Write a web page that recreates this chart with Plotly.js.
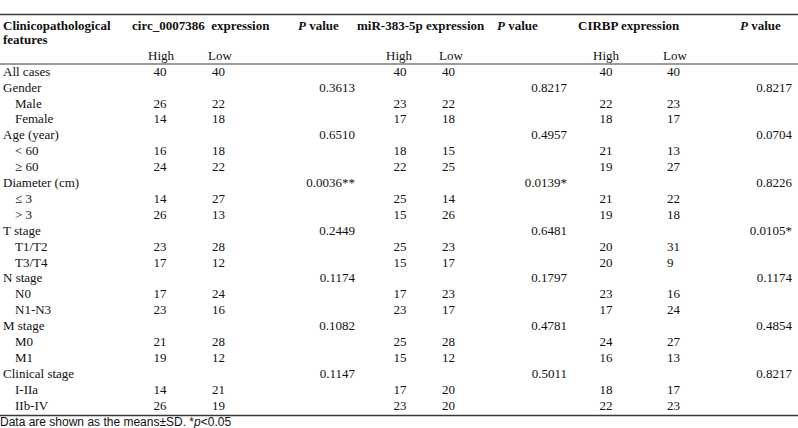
<!DOCTYPE html>
<html>
<head>
<meta charset="utf-8">
<script src="https://cdn.plot.ly/plotly-3.0.1.min.js"></script>
<style>html,body{margin:0;padding:0;background:#fff}</style>
</head>
<body>
<div id="table_container" style="width:798px;height:428px"></div>
<script>
// row labels of the table
var features = ['All cases','Gender','Male','Female','Age (year)','< 60','\u2265 60','Diameter (cm)','\u2264 3','> 3',
    'T stage','T1/T2','T3/T4','N stage','N0','N1-N3','M stage','M0','M1','Clinical stage','I-IIa','IIb-IV'];
var indented = [0,0,1,1,0,1,1,0,1,1,0,1,1,0,1,1,0,1,1,0,1,1];

// circ_0007386
var circ_high = [40,null,26,14,null,16,24,null,14,26,null,23,17,null,17,23,null,21,19,null,14,26];
var circ_low  = [40,null,22,18,null,18,22,null,27,13,null,28,12,null,24,16,null,28,12,null,21,19];
var circ_p    = [null,'0.3613',null,null,'0.6510',null,null,'0.0036**',null,null,'0.2449',null,null,'0.1174',null,null,'0.1082',null,null,'0.1147',null,null];

// miR-383-5p
var mir_high = [40,null,23,17,null,18,22,null,25,15,null,25,15,null,17,23,null,25,15,null,17,23];
var mir_low  = [40,null,22,18,null,15,25,null,14,26,null,23,17,null,23,17,null,28,12,null,20,20];
var mir_p    = [null,'0.8217',null,null,'0.4957',null,null,'0.0139*',null,null,'0.6481',null,null,'0.1797',null,null,'0.4781',null,null,'0.5011',null,null];

// CIRBP
var cirbp_high = [40,null,22,18,null,21,19,null,21,19,null,20,20,null,23,17,null,24,16,null,18,22];
var cirbp_low  = [40,null,23,17,null,13,27,null,22,18,null,31,9,null,16,24,null,27,13,null,17,23];
var cirbp_p    = [null,'0.8217',null,null,'0.0704',null,null,'0.8226',null,null,'0.0105*',null,null,'0.1174',null,null,'0.4854',null,null,'0.8217',null,null];

// header texts
var group_titles = ['circ_0007386\u00a0 expression','<i>P</i> value','miR-383-5p expression','<i>P</i> value','CIRBP expression','<i>P</i> value'];
var sub_titles = ['High','Low','High','Low','High','Low'];
var footnote = 'Data are shown as the means\u00b1SD. *<i>p</i><0.05';

var serif = 'Liberation Serif, Times New Roman, serif';
var body_font = {family: serif, size: 13, color: '#111'};
var head_font = {family: serif, size: 13, color: '#111'};

var first_row = 72.5, row_step = 15.9;
function rowY(i) { return first_row + i * row_step; }

function column(vals, x, pos) {
    var xs = [], ys = [], ts = [];
    vals.forEach(function (v, i) {
        if (v === null) return;
        xs.push(Array.isArray(x) ? x[i] : x);
        ys.push(rowY(i));
        ts.push(String(v));
    });
    return {type: 'scatter', mode: 'text', x: xs, y: ys, text: ts, textposition: pos,
        textfont: body_font, marker: {size: 0}, hoverinfo: 'skip', cliponaxis: false};
}

var label_x = indented.map(function (d) { return d ? 15 : 3; });

var traces = [
    column(features, label_x, 'middle right'),
    column(circ_high, 160, 'middle center'),
    column(circ_low, 212, 'middle right'),
    column(circ_p, 355, 'middle left'),
    column(mir_high, 400, 'middle center'),
    column(mir_low, 442, 'middle right'),
    column(mir_p, 567, 'middle left'),
    column(cirbp_high, 606, 'middle center'),
    column(cirbp_low, 667, 'middle right'),
    column(cirbp_p, 792, 'middle left')
];

// header rows
traces.push({type: 'scatter', mode: 'text',
    x: [3, 3], y: [27, 41],
    text: ['<b>Clinicopathological</b>', '<b>features</b>'],
    textposition: 'middle right', textfont: head_font, marker: {size: 0}, hoverinfo: 'skip', cliponaxis: false});
traces.push({type: 'scatter', mode: 'text',
    x: [132, 298, 357, 497, 578, 740], y: [27, 27, 27, 27, 27, 27],
    text: group_titles.map(function (t) { return '<b>' + t + '</b>'; }),
    textposition: 'middle right', textfont: head_font, marker: {size: 0}, hoverinfo: 'skip', cliponaxis: false});
traces.push({type: 'scatter', mode: 'text',
    x: [148, 208, 386, 439, 593, 663], y: [57, 57, 57, 57, 57, 57],
    text: sub_titles,
    textposition: 'middle right', textfont: body_font, marker: {size: 0}, hoverinfo: 'skip', cliponaxis: false});
traces.push({type: 'scatter', mode: 'text',
    x: [0], y: [422.5], text: [footnote],
    textposition: 'middle right', textfont: {family: 'Liberation Sans, Arial, sans-serif', size: 12, color: '#111'},
    marker: {size: 0}, hoverinfo: 'skip', cliponaxis: false});

var rule = {color: '#3a3a3a', width: 1.6};
var layout = {
    width: 798, height: 428,
    margin: {l: 0, r: 0, t: 0, b: 0},
    paper_bgcolor: '#fff', plot_bgcolor: '#fff',
    showlegend: false,
    xaxis: {range: [0, 798], visible: false, fixedrange: true},
    yaxis: {range: [428, 0], visible: false, fixedrange: true},
    shapes: [
        {type: 'line', xref: 'paper', yref: 'y', x0: 0, x1: 1, y0: 14.5, y1: 14.5, line: rule},
        {type: 'line', xref: 'paper', yref: 'y', x0: 0, x1: 1, y0: 64, y1: 64, line: {color: '#3a3a3a', width: 1.2}},
        {type: 'line', xref: 'paper', yref: 'y', x0: 0, x1: 1, y0: 415.5, y1: 415.5, line: rule}
    ]
};

Plotly.newPlot('table_container', traces, layout, {displayModeBar: false, staticPlot: true});
</script>
</body>
</html>
